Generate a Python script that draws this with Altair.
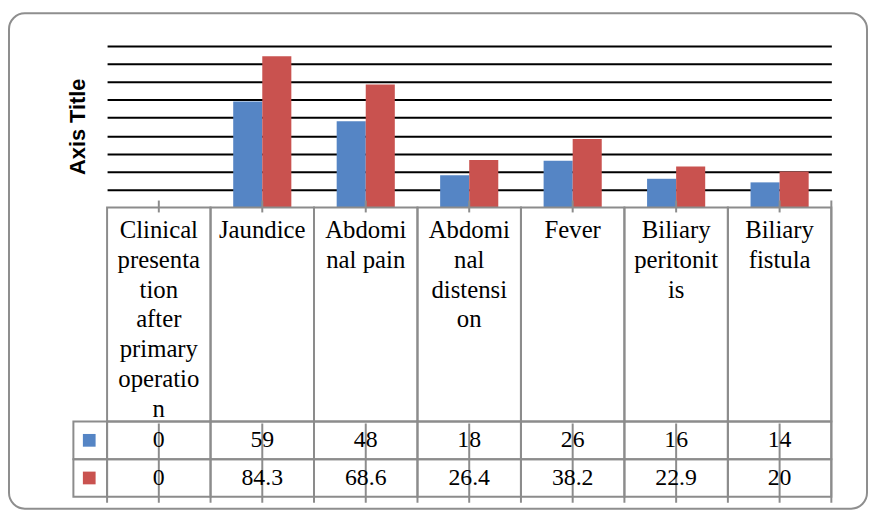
import altair as alt
import pandas as pd

# ---------------- data ----------------
categories = ["Clinical presentation after primary operation", "Jaundice", "Abdominal pain",
              "Abdominal distension", "Fever", "Biliary peritonitis", "Biliary fistula"]
header_labels = ["Clinical\npresenta\ntion\nafter\nprimary\noperatio\nn", "Jaundice",
                 "Abdomi\nnal pain", "Abdomi\nnal\ndistensi\non", "Fever",
                 "Biliary\nperitonit\nis", "Biliary\nfistula"]
series_names = ["Series1", "Series2"]
series1 = [0, 59, 48, 18, 26, 16, 14]
series2 = [0, 84.3, 68.6, 26.4, 38.2, 22.9, 20]
grid_values = [10, 20, 30, 40, 50, 60, 70, 80, 90]
colors = ["#5585c5", "#c9524f"]

# ---------------- tables ----------------
long_rows = []
for s, vals in zip(series_names, [series1, series2]):
    for c, v in zip(categories, vals):
        long_rows.append({"cat": c, "series": s, "value": v})
df = pd.DataFrame(long_rows)
hdf = pd.DataFrame({"cat": categories, "label": header_labels})
last_df = hdf.tail(1)
sdf = pd.DataFrame({"series": series_names})
one = pd.DataFrame({"k": [0]})

# ---------------- layout (chart coords) ----------------
W, H = 868, 505
X_RANGE = [100, 831]
BASE_Y, TOP_Y = 199, 36
HEAD_BOTTOM, TABLE_BOTTOM = 415, 491
GRAY = "#8c8c8c"
SERIF = "Liberation Serif"

xscale = alt.Scale(domain=categories, range=X_RANGE, paddingInner=0, paddingOuter=0)
xenc = alt.X("cat:N", sort=categories, scale=xscale, axis=None)
row_scale = alt.Scale(domain=series_names, range=[HEAD_BOTTOM, TABLE_BOTTOM],
                      paddingInner=0, paddingOuter=0)
yrow = alt.Y("series:N", scale=row_scale, axis=None)
color = alt.Color("series:N", scale=alt.Scale(domain=series_names, range=colors), legend=None)

bars = alt.Chart(df).mark_bar().encode(
    x=xenc,
    xOffset=alt.XOffset("series:N", scale=alt.Scale(domain=series_names, paddingInner=0, paddingOuter=0.78)),
    y=alt.Y("value:Q",
            scale=alt.Scale(domain=[0, 90], range=[BASE_Y, TOP_Y], nice=False),
            axis=alt.Axis(values=grid_values, grid=True, gridColor="#000000", gridWidth=2,
                          gridOpacity=1, labels=False, ticks=False, domain=False,
                          title="Axis Title", titleFont="Liberation Sans",
                          titleFontSize=22, titleFontWeight="bold", titleColor="#000000",
                          titleAngle=270, titleAlign="center", titleBaseline="middle",
                          titleX=70, titleY=117)),
    color=color,
)

header_cells = alt.Chart(hdf).mark_rect(fillOpacity=0, stroke=GRAY, strokeWidth=2).encode(
    x=xenc, y=alt.value(BASE_Y), y2=alt.value(HEAD_BOTTOM))

data_cells = alt.Chart(df).mark_rect(fillOpacity=0, stroke=GRAY, strokeWidth=2).encode(
    x=xenc, y=yrow)

key_cells = alt.Chart(sdf).mark_rect(fillOpacity=0, stroke=GRAY, strokeWidth=2).encode(
    x=alt.value(66), x2=alt.value(100), y=yrow)

col_stubs = alt.Chart(hdf).mark_rule(color=GRAY, strokeWidth=2).encode(
    x=alt.X("cat:N", sort=categories, bandPosition=0, scale=xscale, axis=None),
    y=alt.value(TABLE_BOTTOM), y2=alt.value(497))

right_border = alt.Chart(last_df).mark_rule(color=GRAY, strokeWidth=2).encode(
    x=alt.X("cat:N", sort=categories, bandPosition=1, scale=xscale, axis=None),
    y=alt.value(192), y2=alt.value(497))

center_ticks_top = alt.Chart(hdf).mark_rule(color=GRAY, strokeWidth=2).encode(
    x=xenc, y=alt.value(192), y2=alt.value(204))

center_ticks_table = alt.Chart(hdf).mark_rule(color=GRAY, strokeWidth=2).encode(
    x=xenc, y=alt.value(417), y2=alt.value(497))

header_text = alt.Chart(hdf).mark_text(
    font=SERIF, fontSize=25, lineBreak="\n", lineHeight=30, baseline="top",
    align="center", color="#000000").encode(
    x=xenc, y=alt.value(210), text="label:N")

value_text = alt.Chart(df).mark_text(
    font=SERIF, fontSize=24, baseline="middle", align="center", color="#000000").encode(
    x=xenc, y=yrow, text=alt.Text("value:Q"))

keys = alt.Chart(sdf).mark_point(shape="square", filled=True, size=165, opacity=1).encode(
    x=alt.value(82), y=yrow, color=color)

outer = alt.Chart(one).mark_rect(fillOpacity=0, stroke="#8e8e8e", strokeWidth=2,
                                 cornerRadius=16).encode(
    x=alt.value(1), x2=alt.value(867), y=alt.value(3), y2=alt.value(503))

chart = alt.layer(
    outer, bars, header_cells, data_cells, key_cells, col_stubs, right_border,
    center_ticks_top, center_ticks_table, header_text, value_text, keys,
).resolve_scale(y="independent").properties(
    width=W, height=H, padding=0,
    autosize=alt.AutoSizeParams(type="none"),
).configure_view(strokeWidth=0)

chart.save("out.html", embed_options={"renderer": "svg", "actions": False})
